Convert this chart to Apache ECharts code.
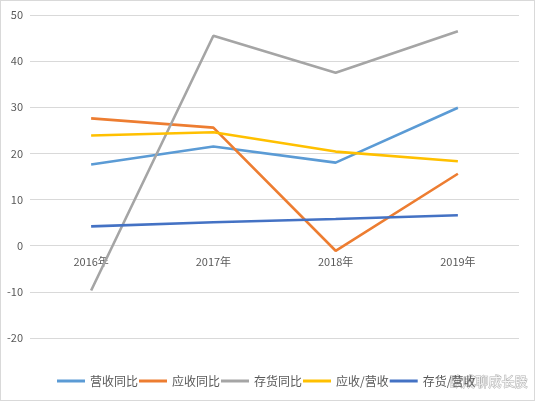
<!DOCTYPE html>
<html>
<head>
<meta charset="utf-8">
<script src="https://cdn.jsdelivr.net/npm/echarts@6/dist/echarts.min.js"></script>
<style>
  html, body { margin: 0; padding: 0; background: #fff; }
  #main { width: 533px; height: 399px; border: 1px solid #d9d9d9; }
</style>
</head>
<body>
<div id="main"></div>
<script>
(function() {
    var years = ['2016年', '2017年', '2018年', '2019年'];
    var revenueYoy = [17.6, 21.5, 18.0, 29.9];      // 营收同比
    var receivableYoy = [27.6, 25.6, -1.1, 15.6];   // 应收同比
    var inventoryYoy = [-9.7, 45.5, 37.5, 46.5];    // 存货同比
    var recvToRev = [23.9, 24.6, 20.4, 18.3];       // 应收/营收
    var invToRev = [4.2, 5.1, 5.8, 6.6];            // 存货/营收

    var myChart = echarts.init(document.getElementById('main'));

    function line(name, data, color) {
        return {
            name: name,
            type: 'line',
            data: data,
            symbol: 'none',
            lineStyle: { width: 2.6, color: color },
            itemStyle: { color: color }
        };
    }

    var option = {
        animation: false,
        textStyle: { fontFamily: '"Noto Sans CJK SC", "DejaVu Sans", sans-serif' },
        grid: { left: 29, right: 15, top: 14, bottom: 62 },
        legend: {
            bottom: 13,
            left: 56,
            padding: 0,
            itemWidth: 28,
            itemHeight: 3,
            itemGap: 1,
            icon: 'rect',
            textStyle: { color: '#595959', fontSize: 12 },
            data: ['营收同比', '应收同比', '存货同比', '应收/营收', '存货/营收']
        },
        xAxis: {
            type: 'category',
            data: years,
            // labels sit just below the zero line, like the source chart
            offset: -92,
            axisLine: { show: false },
            axisTick: { show: false },
            axisLabel: { color: '#595959', fontSize: 11, margin: 10 }
        },
        yAxis: {
            type: 'value',
            min: -20,
            max: 50,
            interval: 10,
            axisLine: { show: false },
            axisTick: { show: false },
            axisLabel: { color: '#595959', fontSize: 11, margin: 7 },
            splitLine: { lineStyle: { color: '#d9d9d9' } }
        },
        graphic: [{
            type: 'text',
            right: 6,
            bottom: 12,
            style: {
                text: '欧成聊成长股',
                fill: 'rgba(255,255,255,0.9)',
                stroke: '#b0b0b0',
                lineWidth: 1,
                fontSize: 13,
                fontFamily: '"Noto Sans CJK SC", sans-serif'
            }
        }],
        series: [
            line('营收同比', revenueYoy, '#5B9BD5'),
            line('应收同比', receivableYoy, '#ED7D31'),
            line('存货同比', inventoryYoy, '#A5A5A5'),
            line('应收/营收', recvToRev, '#FFC000'),
            line('存货/营收', invToRev, '#4472C4')
        ]
    };

    myChart.setOption(option);
})();
</script>
</body>
</html>
